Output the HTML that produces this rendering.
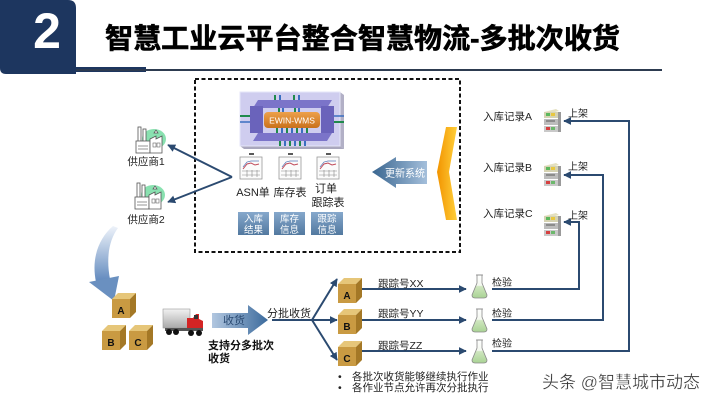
<!DOCTYPE html>
<html><head><meta charset="utf-8">
<style>
html,body{margin:0;padding:0;background:#fff;}
svg{display:block;}
text{font-family:"Liberation Sans","Noto Sans CJK SC",sans-serif;}
</style></head><body>
<svg width="720" height="405" viewBox="0 0 720 405" xmlns="http://www.w3.org/2000/svg">
<defs>
  <marker id="ah" viewBox="0 0 10 10" refX="9" refY="5" markerWidth="8" markerHeight="8" markerUnits="userSpaceOnUse" orient="auto">
    <path d="M0,0 L10,5 L0,10 z" fill="#2b4a70"/>
  </marker>
  <linearGradient id="gBox" x1="0" y1="0" x2="0" y2="1">
    <stop offset="0" stop-color="#86a8cc"/><stop offset="1" stop-color="#52799f"/>
  </linearGradient>
  <linearGradient id="gUpd" x1="0" y1="0" x2="1" y2="0">
    <stop offset="0" stop-color="#3a6690"/><stop offset="1" stop-color="#a4bfdb"/>
  </linearGradient>
  <linearGradient id="gRecv" x1="0" y1="0" x2="1" y2="0">
    <stop offset="0" stop-color="#b2c7e0"/><stop offset="1" stop-color="#3b6a9c"/>
  </linearGradient>
  <linearGradient id="gChev" x1="0" y1="0" x2="1" y2="0">
    <stop offset="0" stop-color="#f29400"/><stop offset="1" stop-color="#ffcf3a"/>
  </linearGradient>
  <linearGradient id="gCurve" x1="0" y1="0" x2="0" y2="1">
    <stop offset="0" stop-color="#eef3fa"/><stop offset="1" stop-color="#5f88bd"/>
  </linearGradient>
  <linearGradient id="gOrange" x1="0" y1="0" x2="0" y2="1">
    <stop offset="0" stop-color="#eda04a"/><stop offset="1" stop-color="#c9701c"/>
  </linearGradient>
  <linearGradient id="gTrailer" x1="0" y1="0" x2="0" y2="1">
    <stop offset="0" stop-color="#f2f2f2"/><stop offset="1" stop-color="#a9a9a9"/>
  </linearGradient>
  <linearGradient id="gFlask" x1="0" y1="0" x2="0" y2="1">
    <stop offset="0" stop-color="#ffffff"/><stop offset="0.45" stop-color="#f4f8f0"/><stop offset="0.5" stop-color="#cfe6bf"/><stop offset="1" stop-color="#a9d394"/>
  </linearGradient>

  <g id="doc">
    <line x1="9" y1="2" x2="14" y2="2" stroke="#222" stroke-width="1.5"/>
    <rect x="0" y="5" width="22" height="22" fill="#fbfbfb" stroke="#9a9a9a" stroke-width="0.8"/>
    <polyline points="3,17 7,12 11,11 15,13 19,12" stroke="#c04a5a" fill="none" stroke-width="1"/>
    <polyline points="3,15 7,10 11,9 19,9" stroke="#5b7bb8" fill="none" stroke-width="0.7"/>
    <line x1="2" y1="19" x2="20" y2="19" stroke="#888" stroke-width="0.6"/>
    <line x1="2" y1="23" x2="20" y2="23" stroke="#888" stroke-width="0.6"/>
    <line x1="7" y1="18" x2="7" y2="25" stroke="#888" stroke-width="0.6"/>
    <line x1="12" y1="18" x2="12" y2="25" stroke="#888" stroke-width="0.6"/>
    <line x1="17" y1="18" x2="17" y2="25" stroke="#888" stroke-width="0.6"/>
  </g>

  <g id="factory">
    <ellipse cx="19" cy="12" rx="12" ry="10" fill="#74dca2" opacity="0.85"/>
    <rect x="3" y="0" width="3" height="15" fill="#fff" stroke="#555" stroke-width="0.8"/>
    <rect x="8" y="2" width="3" height="13" fill="#fff" stroke="#555" stroke-width="0.8"/>
    <rect x="1" y="14" width="14" height="12" fill="#fff" stroke="#555" stroke-width="0.8"/>
    <path d="M15,26 V12 L21,9 V12 L27,9 V26 Z" fill="#fff" stroke="#555" stroke-width="0.8"/>
    <path d="M19,6 l2,-3 l2,3 z" fill="#fff" stroke="#555" stroke-width="0.7"/>
    <line x1="3" y1="19" x2="13" y2="19" stroke="#666" stroke-width="0.7"/>
    <line x1="3" y1="22" x2="13" y2="22" stroke="#666" stroke-width="0.7"/>
    <rect x="18" y="16" width="3" height="4" fill="none" stroke="#666" stroke-width="0.6"/>
    <rect x="22" y="16" width="3" height="4" fill="none" stroke="#666" stroke-width="0.6"/>
  </g>

  <g id="server">
    <polygon points="2,3 14,0 17,2 5,5" fill="#e4e0c0"/>
    <rect x="2" y="3" width="14" height="6" fill="#d6d3b2"/>
    <rect x="4" y="4" width="4" height="3" fill="#5cb85c"/>
    <rect x="9" y="4" width="4" height="3" fill="#e8c840"/>
    <rect x="2" y="10" width="14" height="6" fill="#bdbdbd"/>
    <rect x="4" y="11" width="9" height="2" fill="#8c8c8c"/>
    <rect x="2" y="17" width="14" height="6" fill="#c9c9c9"/>
    <rect x="4" y="18" width="4" height="3" fill="#d64040"/>
    <rect x="9" y="18" width="4" height="3" fill="#6cb86c"/>
    <rect x="16" y="3" width="3" height="20" fill="#9a9a9a"/>
  </g>

  <g id="cube">
    <polygon points="0,6 6,0 24,0 18,6" fill="#e6c679"/>
    <rect x="0" y="6" width="18" height="19" fill="#c99a42"/>
    <polygon points="18,6 24,0 24,19 18,25" fill="#a47826"/>
  </g>

  <g id="flask">
    <path d="M5,0 V8 L0,20 Q0,23 3,23 H12 Q15,23 15,20 L10,8 V0 Z" fill="url(#gFlask)" stroke="#8a8a8a" stroke-width="0.8"/>
    <line x1="4" y1="0" x2="11" y2="0" stroke="#8a8a8a" stroke-width="0.8"/>
  </g>
</defs>

<!-- Header -->
<path d="M0,0 H68 Q76,0 76,8 V74 H6 Q0,74 0,68 Z" fill="#1d365f"/>
<text x="47" y="48" font-size="50" font-weight="bold" fill="#fff" text-anchor="middle">2</text>
<rect x="76" y="67" width="70" height="5" fill="#1d365f"/>
<line x1="76" y1="70" x2="662" y2="70" stroke="#2d3b50" stroke-width="2"/>
<text x="105" y="48" font-size="28" font-weight="bold" fill="#000" stroke="#000" stroke-width="0.6" textLength="515" lengthAdjust="spacingAndGlyphs">智慧工业云平台整合智慧物流-多批次收货</text>

<!-- Dashed box -->
<rect x="195" y="79" width="265" height="173" fill="none" stroke="#111" stroke-width="2" stroke-dasharray="4,2.5"/>

<!-- WMS icon -->
<polygon points="340,92 344,95 344,149 340,146" fill="#b2b0c6"/>
<polygon points="240,146 340,146 344,149 244,149" fill="#a9a7bd"/>
<rect x="240" y="92" width="100" height="54" fill="#cfcdef" stroke="#e6e6f8" stroke-width="1"/>
<rect x="274" y="95" width="2" height="6" fill="#1f8a4c"/>
<rect x="279" y="95" width="2" height="6" fill="#3a6fc0"/>
<rect x="293" y="95" width="2" height="6" fill="#1f8a4c"/>
<rect x="298" y="95" width="2" height="6" fill="#3a6fc0"/>
<polygon points="258,100 332,100 327,108 253,108" fill="#7b74c9"/>
<polygon points="258,133 332,133 327,141 253,141" fill="#7b74c9"/>
<rect x="250" y="106" width="13" height="27" fill="#6a63bb"/>
<rect x="321" y="106" width="13" height="27" fill="#6a63bb"/>
<line x1="240" y1="116" x2="250" y2="116" stroke="#1f8a4c" stroke-width="2"/>
<line x1="240" y1="122" x2="250" y2="122" stroke="#3a6fc0" stroke-width="1.5"/>
<line x1="334" y1="116" x2="344" y2="116" stroke="#3a6fc0" stroke-width="1.5"/>
<line x1="334" y1="122" x2="344" y2="122" stroke="#1f8a4c" stroke-width="2"/>
<g fill="#1f8a4c">
  <rect x="278" y="108" width="2" height="4"/><rect x="294" y="108" width="2" height="4"/>
  <rect x="276" y="128" width="2" height="5"/><rect x="286" y="128" width="2" height="5"/><rect x="296" y="128" width="2" height="5"/><rect x="306" y="128" width="2" height="5"/>
  <rect x="279" y="141" width="2" height="5"/><rect x="289" y="141" width="2" height="5"/><rect x="299" y="141" width="2" height="5"/>
</g>
<g fill="#3a6fc0">
  <rect x="282" y="108" width="2" height="4"/><rect x="298" y="108" width="2" height="4"/>
  <rect x="281" y="128" width="2" height="5"/><rect x="291" y="128" width="2" height="5"/><rect x="301" y="128" width="2" height="5"/>
  <rect x="284" y="141" width="2" height="5"/><rect x="294" y="141" width="2" height="5"/><rect x="304" y="141" width="2" height="5"/>
</g>
<rect x="264" y="112" width="56" height="16" rx="4" fill="url(#gOrange)"/>
<text x="292" y="123.5" font-size="8.5" fill="#fff" text-anchor="middle">EWIN-WMS</text>

<!-- Documents -->
<use href="#doc" x="240" y="152"/>
<use href="#doc" x="279" y="152"/>
<use href="#doc" x="317" y="152"/>
<text x="253" y="196" font-size="11" fill="#222" text-anchor="middle">ASN单</text>
<text x="290" y="196" font-size="11" fill="#222" text-anchor="middle">库存表</text>
<text x="326" y="192" font-size="11" fill="#222" text-anchor="middle">订单</text>
<text x="328" y="206" font-size="11" fill="#222" text-anchor="middle">跟踪表</text>

<!-- Blue info boxes -->
<rect x="238" y="212" width="31" height="23" fill="url(#gBox)"/>
<rect x="274" y="212" width="31" height="23" fill="url(#gBox)"/>
<rect x="311" y="212" width="32" height="23" fill="url(#gBox)"/>
<g font-size="9.5" fill="#fff" text-anchor="middle">
  <text x="253.5" y="222">入库</text><text x="253.5" y="233">结果</text>
  <text x="289.5" y="222">库存</text><text x="289.5" y="233">信息</text>
  <text x="327" y="222">跟踪</text><text x="327" y="233">信息</text>
</g>

<!-- Update arrow -->
<polygon points="372,172 396,157 396,161 427,161 427,184 396,184 396,188" fill="url(#gUpd)"/>
<text x="385" y="176.5" font-size="10.5" fill="#fff" textLength="40" lengthAdjust="spacingAndGlyphs">更新系统</text>

<!-- Orange chevron -->
<polygon points="446,127 457,127 449,172 457,220 446,220 437,172" fill="url(#gChev)"/>

<!-- Suppliers -->
<use href="#factory" x="135" y="127"/>
<use href="#factory" x="134" y="183"/>
<text x="146" y="165" font-size="10.5" fill="#222" text-anchor="middle">供应商1</text>
<text x="146" y="223" font-size="10.5" fill="#222" text-anchor="middle">供应商2</text>
<line x1="232" y1="177" x2="168" y2="145" stroke="#2b4a70" stroke-width="2" marker-end="url(#ah)"/>
<line x1="232" y1="177" x2="168" y2="202" stroke="#2b4a70" stroke-width="2" marker-end="url(#ah)"/>

<!-- Curved arrow -->
<path d="M113,226 C99,238 91,258 96,282 L110,279 C106,258 109,240 118,228 Z" fill="url(#gCurve)"/>
<polygon points="89,282 119,276 114,301" fill="#6a90c0"/>

<!-- Left cubes -->
<use href="#cube" x="112" y="293"/>
<use href="#cube" x="102" y="325"/>
<use href="#cube" x="129" y="325"/>
<g font-size="10" font-weight="bold" fill="#111" text-anchor="middle">
  <text x="121" y="314">A</text>
  <text x="111" y="346">B</text>
  <text x="138" y="346">C</text>
</g>

<!-- Truck -->
<rect x="163" y="309" width="27" height="19" fill="url(#gTrailer)" stroke="#999" stroke-width="0.6"/>
<path d="M187,331 V318 H193 L196,314 H199 V319 L203,321 V331 Z" fill="#d42424"/>
<rect x="194" y="315" width="4" height="4" fill="#333"/>
<rect x="165" y="328" width="38" height="3" fill="#555"/>
<g fill="#111">
  <circle cx="169" cy="332" r="3"/><circle cx="176" cy="332" r="3"/>
  <circle cx="191" cy="333" r="3"/><circle cx="199" cy="333" r="3"/>
</g>

<!-- Receive arrow -->
<polygon points="212,313 248,313 248,305 268,320 248,335 248,328 212,328" fill="url(#gRecv)"/>
<text x="234" y="324" font-size="11" fill="#2a4a72" text-anchor="middle">收货</text>
<text x="208" y="349" font-size="11" font-weight="bold" fill="#111">支持分多批次</text>
<text x="208" y="362" font-size="11" font-weight="bold" fill="#111">收货</text>

<!-- Split -->
<text x="267" y="317" font-size="11" fill="#222">分批收货</text>
<line x1="272" y1="320" x2="312" y2="320" stroke="#2b4a70" stroke-width="2"/>
<line x1="312" y1="320" x2="337" y2="279" stroke="#2b4a70" stroke-width="2" marker-end="url(#ah)"/>
<line x1="312" y1="320" x2="337" y2="320" stroke="#2b4a70" stroke-width="2" marker-end="url(#ah)"/>
<line x1="312" y1="320" x2="337" y2="360" stroke="#2b4a70" stroke-width="2" marker-end="url(#ah)"/>

<!-- Right cubes -->
<use href="#cube" x="338" y="278"/>
<use href="#cube" x="338" y="309"/>
<use href="#cube" x="338" y="341"/>
<g font-size="10" font-weight="bold" fill="#111" text-anchor="middle">
  <text x="347" y="299">A</text>
  <text x="347" y="330">B</text>
  <text x="347" y="362">C</text>
</g>

<!-- Tracking lines -->
<line x1="362" y1="289" x2="466" y2="289" stroke="#2b4a70" stroke-width="2" marker-end="url(#ah)"/>
<line x1="362" y1="320" x2="466" y2="320" stroke="#2b4a70" stroke-width="2" marker-end="url(#ah)"/>
<line x1="362" y1="351" x2="466" y2="351" stroke="#2b4a70" stroke-width="2" marker-end="url(#ah)"/>
<g font-size="10.5" fill="#222">
  <text x="378" y="287">跟踪号XX</text>
  <text x="378" y="317">跟踪号YY</text>
  <text x="378" y="349">跟踪号ZZ</text>
</g>

<!-- Flasks -->
<use href="#flask" x="472" y="275"/>
<use href="#flask" x="472" y="309"/>
<use href="#flask" x="472" y="340"/>
<g font-size="10" fill="#222">
  <text x="492" y="286">检验</text>
  <text x="492" y="317">检验</text>
  <text x="492" y="347">检验</text>
</g>

<!-- Return connectors -->
<polyline points="492,289 579,289 579,222 564,222" fill="none" stroke="#2b4a70" stroke-width="2" marker-end="url(#ah)"/>
<polyline points="492,320 603,320 603,175 564,175" fill="none" stroke="#2b4a70" stroke-width="2" marker-end="url(#ah)"/>
<polyline points="492,351 629,351 629,121 564,121" fill="none" stroke="#2b4a70" stroke-width="2" marker-end="url(#ah)"/>

<!-- Servers -->
<use href="#server" x="542" y="109"/>
<use href="#server" x="542" y="163"/>
<use href="#server" x="542" y="213"/>
<g font-size="10" fill="#222">
  <text x="568" y="117">上架</text>
  <text x="568" y="170">上架</text>
  <text x="568" y="219">上架</text>
</g>
<g font-size="10.5" fill="#222">
  <text x="483" y="120">入库记录A</text>
  <text x="483" y="171">入库记录B</text>
  <text x="483" y="217">入库记录C</text>
</g>

<!-- Bullets -->
<g font-size="10.5" fill="#222">
  <text x="338" y="380">•</text><text x="352" y="380">各批次收货能够继续执行作业</text>
  <text x="338" y="391">•</text><text x="352" y="391">各作业节点允许再次分批执行</text>
</g>

<!-- Watermark -->
<text x="542" y="388" font-size="17" fill="#333" stroke="#fff" stroke-width="0.3">头条 @智慧城市动态</text>
</svg>
</body></html>
